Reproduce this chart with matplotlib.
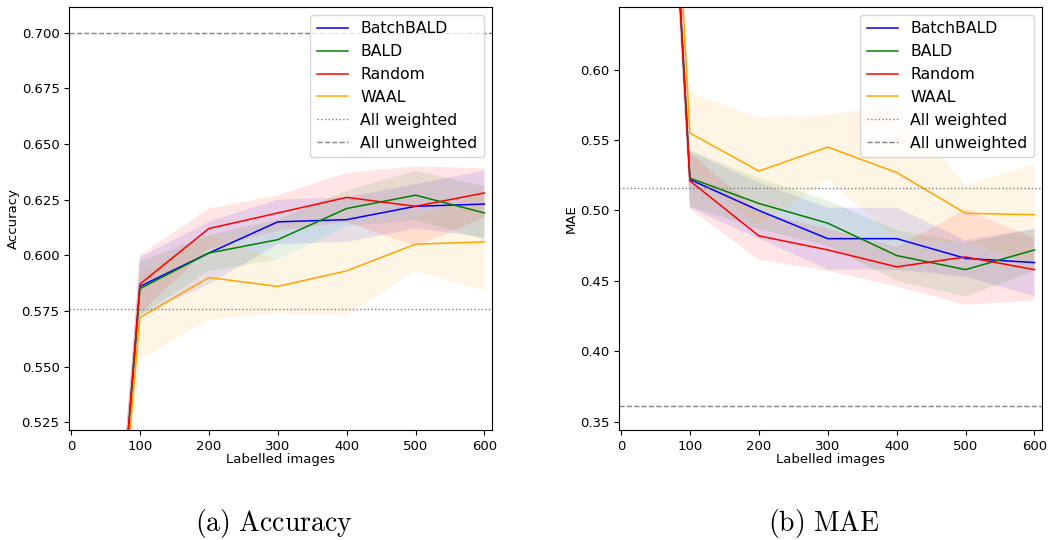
import matplotlib
matplotlib.use('Agg')
import matplotlib.pyplot as plt
import numpy as np

plt.rcParams['mathtext.fontset'] = 'cm'

labelled = [0, 100, 200, 300, 400, 500, 600]
methods = ["BatchBALD", "BALD", "Random", "WAAL"]
colors = ["blue", "green", "red", "orange"]

# accuracy (mean and spread per method)
acc_batchbald = [0.20, 0.586, 0.601, 0.615, 0.616, 0.622, 0.623]
acc_bald = [0.20, 0.585, 0.601, 0.607, 0.621, 0.627, 0.619]
acc_random = [0.20, 0.587, 0.612, 0.619, 0.626, 0.622, 0.628]
acc_waal = [0.22, 0.572, 0.590, 0.586, 0.593, 0.605, 0.606]
acc_batchbald_std = [0.01, 0.013, 0.014, 0.010, 0.010, 0.010, 0.015]
acc_bald_std = [0.01, 0.012, 0.008, 0.009, 0.008, 0.011, 0.012]
acc_random_std = [0.01, 0.013, 0.009, 0.008, 0.011, 0.018, 0.011]
acc_waal_std = [0.01, 0.019, 0.019, 0.012, 0.020, 0.012, 0.022]
acc_all_weighted = 0.5758
acc_all_unweighted = 0.700

# MAE
mae_batchbald = [1.40, 0.522, 0.500, 0.480, 0.480, 0.466, 0.463]
mae_bald = [1.40, 0.523, 0.505, 0.491, 0.468, 0.458, 0.472]
mae_random = [1.40, 0.521, 0.482, 0.472, 0.460, 0.467, 0.458]
mae_waal = [1.45, 0.555, 0.528, 0.545, 0.527, 0.498, 0.497]
mae_batchbald_std = [0.03, 0.020, 0.020, 0.022, 0.022, 0.013, 0.024]
mae_bald_std = [0.03, 0.020, 0.018, 0.016, 0.018, 0.019, 0.015]
mae_random_std = [0.03, 0.020, 0.017, 0.015, 0.014, 0.034, 0.022]
mae_waal_std = [0.03, 0.029, 0.038, 0.023, 0.048, 0.020, 0.036]
mae_all_weighted = 0.5162
mae_all_unweighted = 0.3614


def draw_panel(ax, means, stds, weighted, unweighted, ylabel, ylim, yticks, fmt):
    x = np.array(labelled)
    for m, s, c, name in zip(means, stds, colors, methods):
        m = np.array(m)
        s = np.array(s)
        ax.fill_between(x, m - s, m + s, color=c, alpha=0.1, linewidth=0)
        ax.plot(x, m, color=c, linewidth=1.1, label=name)
    ax.axhline(weighted, color='gray', linestyle=':', linewidth=1.0, label="All weighted")
    ax.axhline(unweighted, color='gray', linestyle='--', linewidth=1.0, label="All unweighted")
    ax.set_xlim(-2.5, 610.5)
    ax.set_ylim(*ylim)
    ax.set_xticks([0, 100, 200, 300, 400, 500, 600])
    ax.set_yticks(yticks)
    ax.set_yticklabels([fmt.format(v) for v in yticks])
    ax.tick_params(labelsize=9.5)
    ax.set_xlabel("Labelled images", fontsize=9.5, labelpad=0)
    ax.set_ylabel(ylabel, fontsize=9.5, labelpad=1.5)
    ax.legend(loc='upper right', fontsize=11.3)


fig = plt.figure(figsize=(10.5, 5.4), dpi=100)
ax1 = fig.add_axes([69.3 / 1050, 1 - 430 / 540, 422.4 / 1050, 422.7 / 540])
ax2 = fig.add_axes([619.3 / 1050, 1 - 430 / 540, 422.4 / 1050, 422.7 / 540])

draw_panel(ax1,
           [acc_batchbald, acc_bald, acc_random, acc_waal],
           [acc_batchbald_std, acc_bald_std, acc_random_std, acc_waal_std],
           acc_all_weighted, acc_all_unweighted, "Accuracy",
           (0.5215, 0.7114), [0.525, 0.55, 0.575, 0.6, 0.625, 0.65, 0.675, 0.7], "{:.3f}")
draw_panel(ax2,
           [mae_batchbald, mae_bald, mae_random, mae_waal],
           [mae_batchbald_std, mae_bald_std, mae_random_std, mae_waal_std],
           mae_all_weighted, mae_all_unweighted, "MAE",
           (0.3441, 0.6443), [0.35, 0.4, 0.45, 0.5, 0.55, 0.6], "{:.2f}")

fig.text(274 / 1050, 1 - 523 / 540, r"$\mathrm{(a)\ Accuracy}$", fontsize=20, ha='center', va='center')
fig.text(824 / 1050, 1 - 523 / 540, r"$\mathrm{(b)\ MAE}$", fontsize=20, ha='center', va='center')

fig.savefig("out.png", dpi=100)
plt.close(fig)
